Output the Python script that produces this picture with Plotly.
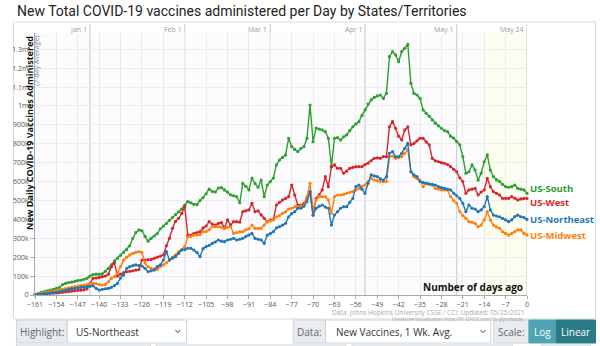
import plotly.graph_objects as go

# ---- data (new vaccine doses per day, 7-day average, in thousands) ----
days = list(range(-161, 1))

us_south = [
    3, 8, 14, 18, 22, 26, 30, 35, 40, 55,
    62, 66, 68, 72, 76, 78, 82, 88, 100, 108,
    110, 110, 112, 125, 140, 160, 180, 195, 210, 225,
    240, 260, 300, 330, 344, 340, 310, 285, 300, 312,
    325, 350, 365, 378, 395, 410, 425, 440, 455, 475,
    494, 488, 480, 478, 500, 515, 535, 560, 548, 545,
    566, 568, 556, 545, 530, 525, 520, 488, 590, 575,
    556, 619, 590, 570, 608, 520, 582, 600, 619, 688,
    714, 728, 741, 829, 785, 770, 758, 775, 785, 829,
    1005, 811, 883, 878, 873, 864, 829, 679, 829, 832,
    820, 837, 847, 870, 890, 905, 917, 950, 979, 1010,
    1032, 1045, 1053, 1058, 1040, 1067, 1261, 1287, 1270, 1234,
    1287, 1305, 1326, 1120, 1067, 1058, 1040, 979, 961, 945,
    926, 908, 895, 882, 870, 864, 840, 830, 811, 794,
    732, 644, 652, 688, 661, 608, 644, 705, 741, 661,
    626, 610, 600, 585, 573, 570, 573, 582, 564, 560,
    556, 538,
]

us_west = [
    2, 4, 6, 7, 8, 9, 10, 11, 12, 14,
    16, 18, 20, 22, 24, 25, 27, 32, 60, 88,
    90, 93, 97, 100, 110, 150, 170, 100, 110, 118,
    123, 125, 128, 132, 135, 185, 185, 187, 188, 194,
    200, 205, 212, 260, 300, 353, 390, 406, 432, 467,
    317, 317, 326, 330, 335, 355, 365, 388, 375, 370,
    379, 383, 355, 397, 370, 388, 388, 385, 441, 445,
    450, 485, 441, 445, 423, 406, 388, 397, 400, 476,
    490, 503, 511, 520, 582, 529, 476, 476, 485, 511,
    538, 423, 511, 530, 556, 626, 573, 679, 688, 670,
    670, 644, 655, 670, 675, 679, 679, 679, 690, 697,
    710, 723, 725, 723, 732, 732, 890, 917, 882, 840,
    820, 873, 890, 794, 802, 815, 829, 829, 810, 794,
    723, 710, 705, 700, 697, 690, 679, 665, 652, 620,
    600, 538, 556, 560, 564, 529, 545, 556, 617, 573,
    547, 538, 529, 511, 511, 511, 520, 512, 503, 508,
    511, 511,
]

us_northeast = [
    1, 2, 4, 6, 8, 10, 12, 14, 17, 20,
    25, 30, 33, 35, 38, 40, 42, 44, 46, 48,
    35, 26, 30, 33, 35, 40, 50, 62, 90, 106,
    141, 150, 155, 159, 156, 153, 141, 123, 128, 132,
    150, 159, 185, 229, 185, 195, 203, 220, 238, 240,
    247, 247, 238, 225, 203, 245, 256, 262, 273, 280,
    291, 285, 282, 291, 295, 300, 291, 295, 300, 310,
    317, 326, 300, 295, 291, 273, 317, 325, 335, 355,
    361, 370, 379, 414, 430, 441, 459, 459, 470, 494,
    547, 423, 459, 470, 476, 465, 459, 370, 423, 441,
    459, 467, 467, 490, 511, 573, 582, 560, 538, 591,
    635, 630, 626, 615, 608, 626, 750, 758, 732, 732,
    750, 776, 802, 652, 635, 626, 600, 595, 591, 588,
    585, 582, 573, 568, 564, 560, 556, 538, 525, 511,
    485, 441, 476, 459, 455, 441, 450, 467, 520, 450,
    423, 418, 414, 405, 397, 388, 397, 415, 423, 414,
    410, 400,
]

us_midwest = [
    2, 5, 8, 11, 14, 17, 20, 23, 26, 30,
    34, 38, 41, 44, 47, 50, 53, 55, 60, 62,
    60, 55, 53, 55, 70, 88, 97, 115, 150, 185,
    200, 212, 220, 225, 229, 225, 170, 150, 141, 138,
    136, 150, 159, 170, 185, 200, 212, 229, 240, 256,
    308, 310, 317, 317, 320, 335, 335, 345, 361, 361,
    361, 358, 352, 358, 361, 326, 330, 335, 335, 344,
    350, 370, 352, 352, 352, 370, 388, 392, 397, 414,
    420, 432, 440, 455, 459, 467, 467, 470, 476, 520,
    591, 450, 503, 520, 520, 520, 503, 432, 520, 529,
    529, 532, 538, 543, 547, 555, 564, 575, 582, 600,
    617, 608, 605, 600, 600, 600, 732, 735, 723, 728,
    732, 750, 767, 652, 626, 615, 608, 573, 591, 585,
    582, 564, 560, 556, 556, 556, 520, 500, 485, 441,
    420, 406, 388, 385, 379, 361, 370, 397, 441, 397,
    370, 360, 353, 335, 326, 317, 326, 335, 344, 344,
    326, 317,
]

series_names = ["US-South", "US-West", "US-Midwest", "US-Northeast"]
series_values = [us_south, us_west, us_midwest, us_northeast]
series_colors = ["#2ca02c", "#d62728", "#ff7f0e", "#1f77b4"]
label_nudge = [4.5, -4.5, 0, 0]

x_tick_vals = list(range(-161, 1, 7))
y_tick_vals = [0, 100000, 200000, 300000, 400000, 500000, 600000,
               700000, 800000, 900000, 1000000, 1100000, 1200000, 1300000]
y_tick_text = ["0", "100k", "200k", "300k", "400k", "500k", "600k",
               "700k", "800k", "900k", "1m", "1.1m", "1.2m", "1.3m"]
month_days = [-143, -112, -84, -53, -23, 0]
month_labels = ["Jan 1", "Feb 1", "Mar 1", "Apr 1", "May 1", "May 24"]
recent_window = [-14, 0]

# ---- page geometry (pixels) ----
W, H = 600, 346
PL, PR, PT, PB = 24, 527, 33, 295


def px(x):
    return (x - PL) / (PR - PL)


def py(y):
    return (PB - y) / (PB - PT)


FONT = "Open Sans"

fig = go.Figure()

for name, vals, color in zip(series_names, series_values, series_colors):
    fig.add_trace(go.Scatter(
        x=days, y=[v * 1000 for v in vals], name=name, mode="lines+markers",
        line=dict(color=color, width=1.4),
        marker=dict(color=color, size=3.2),
        cliponaxis=False, showlegend=False, hoverinfo="x+y+name",
    ))

shapes = []
annotations = []

# outer chart frame
shapes.append(dict(type="rect", xref="paper", yref="paper", layer="below",
                   x0=px(2), x1=px(597), y0=py(319), y1=py(22),
                   line=dict(color="#dcdcdc", width=1), fillcolor="rgba(0,0,0,0)"))

# last two weeks highlight
shapes.append(dict(type="rect", xref="x", yref="paper", layer="below",
                   x0=recent_window[0], x1=recent_window[1], y0=0, y1=1,
                   line=dict(width=0), fillcolor="rgba(255,255,205,0.3)"))

# month separators and their labels
for d, lab in zip(month_days, month_labels):
    shapes.append(dict(type="line", xref="x", yref="paper", layer="below",
                       x0=d, x1=d, y0=0, y1=py(24),
                       line=dict(color="#cfcfcf", width=1.2)))
    annotations.append(dict(x=d, y=py(30), xref="x", yref="paper", text=lab,
                            showarrow=False, xanchor="right", yanchor="middle",
                            xshift=-1, font=dict(family=FONT, size=7, color="#9a9a9a")))

# series labels at line ends
for name, vals, color, nudge in zip(series_names, series_values, series_colors, label_nudge):
    annotations.append(dict(x=days[-1], y=vals[-1] * 1000, xref="x", yref="y",
                            text="<b>%s</b>" % name, showarrow=False,
                            xanchor="left", yanchor="middle", xshift=1, yshift=nudge,
                            font=dict(family=FONT, size=9.5, color=color)))

# title
annotations.append(dict(x=px(4), y=py(11), xref="paper", yref="paper",
                        text="New Total COVID-19 vaccines administered per Day by States/Territories",
                        showarrow=False, xanchor="left", yanchor="middle",
                        font=dict(family="Roboto", size=14, color="#222")))

# y-axis titles
annotations.append(dict(x=px(29), y=py(34), xref="paper", yref="paper",
                        text="<b>New Daily COVID-19 Vaccines Administered</b>",
                        textangle=-90, showarrow=False, xanchor="center", yanchor="top",
                        xshift=-11, font=dict(family=FONT, size=9, color="#111")))
annotations.append(dict(x=px(37), y=py(34), xref="paper", yref="paper",
                        text="(7-day Average)", textangle=-90, showarrow=False,
                        xanchor="center", yanchor="top",
                        xshift=-11, font=dict(family=FONT, size=7, color="#888")))

# x-axis title inside the plot
annotations.append(dict(x=px(525), y=py(287), xref="paper", yref="paper",
                        text="<b>Number of days ago</b>", showarrow=False,
                        xanchor="right", yanchor="middle",
                        font=dict(family=FONT, size=10, color="#111")))

# source credits
annotations.append(dict(x=px(527), y=py(312.5), xref="paper", yref="paper",
                        text="Data: Johns Hopkins University CSSE / CCI; Updated: 05/25/2021",
                        showarrow=False, xanchor="right", yanchor="middle",
                        font=dict(family=FONT, size=6.5, color="#aaa")))
annotations.append(dict(x=px(527), y=py(318.5), xref="paper", yref="paper",
                        text="Interactive Visualization: https://91-DIVOC.com/ by @profwade_",
                        showarrow=False, xanchor="right", yanchor="middle",
                        font=dict(family=FONT, size=4.5, color="#aaa")))

# ---- control bar under the chart ----
CT, CB = 320, 343
ctrl_y = py((CT + CB) / 2)


def box(x0, x1, fill, line="#ced4da", y0=CT, y1=CB):
    shapes.append(dict(type="rect", xref="paper", yref="paper",
                       x0=px(x0), x1=px(x1), y0=py(y1), y1=py(y0),
                       line=dict(color=line, width=1), fillcolor=fill))


def label(x, text, color, anchor="left", size=10, bold=False):
    annotations.append(dict(x=px(x), y=ctrl_y, xref="paper", yref="paper",
                            text=("<b>%s</b>" % text) if bold else text,
                            showarrow=False, xanchor=anchor, yanchor="middle",
                            font=dict(family=FONT, size=size, color=color)))


def chevron(x):
    yc = (CT + CB) / 2
    shapes.append(dict(type="path", xref="paper", yref="paper",
                       path="M %f %f L %f %f L %f %f" % (
                           px(x - 2.5), py(yc - 1.5), px(x), py(yc + 1.2),
                           px(x + 2.5), py(yc - 1.5)),
                       line=dict(color="#444", width=1)))


box(5, 57, "#e9ecef")
label(31, "Highlight:", "#666", anchor="center")
box(57, 179, "#ffffff")
label(64, "US-Northeast", "#333")
chevron(170)

box(288, 321, "#e9ecef")
label(304.5, "Data:", "#666", anchor="center")
box(321, 490, "#ffffff")
label(330, "New Vaccines, 1 Wk. Avg.", "#333")
chevron(482)

box(493, 529, "#e9ecef")
label(511, "Scale:", "#666", anchor="center")
box(529, 557, "#4da4b4", line="#4da4b4")
label(543, "Log", "#ffffff", anchor="center")
box(557, 597, "#2a7a87", line="#2a7a87")
label(577, "Linear", "#ffffff", anchor="center")

# tops of the next control row
for x0, x1 in [(5, 142), (148, 342), (348, 512), (542, 592)]:
    box(x0, x1, "#ffffff", y0=345, y1=352)

fig.update_layout(
    width=W, height=H,
    margin=dict(l=PL, r=W - PR, t=PT, b=H - PB, pad=0),
    paper_bgcolor="#ffffff", plot_bgcolor="#fcfcff",
    shapes=shapes, annotations=annotations,
    xaxis=dict(range=[-161, 0], tickvals=x_tick_vals, showgrid=True,
               gridcolor="#ebebf0", gridwidth=1, zeroline=False,
               showline=True, linecolor="#aaa", linewidth=1,
               ticks="outside", ticklen=3, tickcolor="#aaa",
               tickfont=dict(family=FONT, size=7, color="#555")),
    yaxis=dict(range=[0, 1386000], tickvals=y_tick_vals, ticktext=y_tick_text,
               showgrid=True, gridcolor="#ebebf0", gridwidth=1, zeroline=False,
               showline=True, linecolor="#aaa", linewidth=1,
               ticks="outside", ticklen=4, tickcolor="#aaa",
               tickfont=dict(family=FONT, size=7, color="#555")),
)

fig.write_html("out.html")
